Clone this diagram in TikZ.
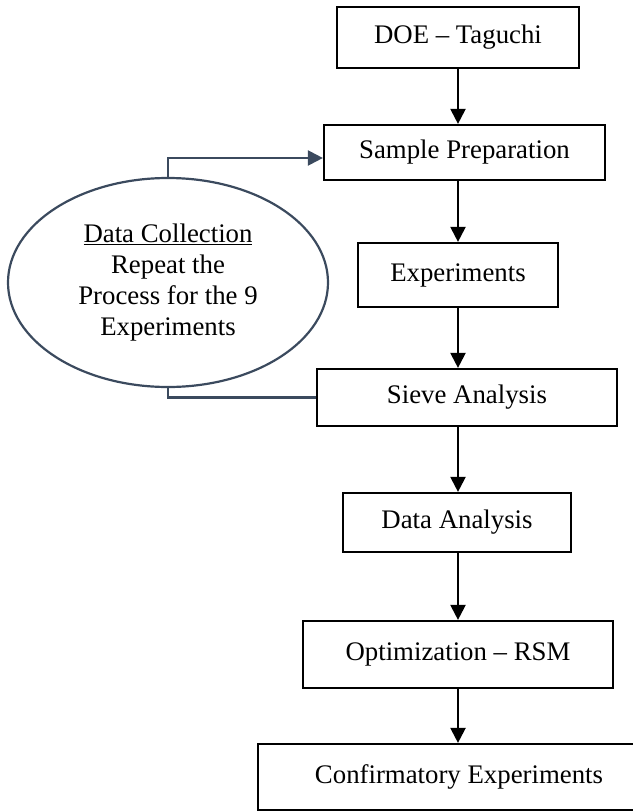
\documentclass[tikz,border=0pt]{standalone}
\usepackage{fontspec}
\setmainfont{Liberation Serif}
\usepackage{xcolor}
\usetikzlibrary{arrows.meta,positioning,shapes.geometric,calc}

\definecolor{loopcol}{HTML}{3B4A5E}

\begin{document}
\begin{tikzpicture}[
  x=1pt,y=-1pt,
  font=\fontsize{26.8}{31}\selectfont,
  box/.style={rectangle,draw,line width=2.2pt,align=center,inner sep=0pt},
  loopnode/.style={ellipse,draw=loopcol,line width=2.2pt,align=center,inner sep=0pt},
  arr/.style={-{Triangle[length=15pt,width=15pt]},line width=2.2pt},
  looparr/.style={line width=2.2pt,draw=loopcol}
]
\useasboundingbox (0,0) rectangle (632,811);
\node[box,minimum width=242pt,minimum height=61pt] (doe) at (458,37.5) {DOE -- Taguchi};
\node[box,minimum width=281pt,minimum height=55pt] (prep) at (464.5,152.5) {Sample Preparation};
\node[box,minimum width=200pt,minimum height=64pt] (expt) at (458,275) {Experiments};
\node[box,minimum width=300pt,minimum height=57pt] (sieve) at (467,397.5) {Sieve Analysis};
\node[box,minimum width=228pt,minimum height=59pt] (dana) at (457,522.5) {Data Analysis};
\node[box,minimum width=310pt,minimum height=67pt] (optim) at (458,654.5) {Optimization -- RSM};
\node[box,minimum width=402pt,minimum height=66pt] (confirm) at (459,777) {Confirmatory Experiments};
\node[loopnode,minimum width=320pt,minimum height=209pt] (collect) at (168,282.5)
  {\underline{Data Collection}\\Repeat the\\Process for the 9\\Experiments};

\draw[arr] (doe.south) -- (doe.south |- prep.north);
\draw[arr] (expt.north |- prep.south) -- (expt.north);
\draw[arr] (expt.south) -- (expt.south |- sieve.north);
\draw[arr] (expt.south |- sieve.south) -- (expt.south |- dana.north);
\draw[arr] (optim.north |- dana.south) -- (optim.north);
\draw[arr] (optim.south) -- (optim.south |- confirm.north);

% loop back to sample preparation
\draw[looparr,-{Triangle[length=15pt,width=15pt]}] (collect.north) |- ($(prep.west)+(0,5.5)$);
\draw[looparr] (collect.south) |- (sieve.west);
\end{tikzpicture}
\end{document}
